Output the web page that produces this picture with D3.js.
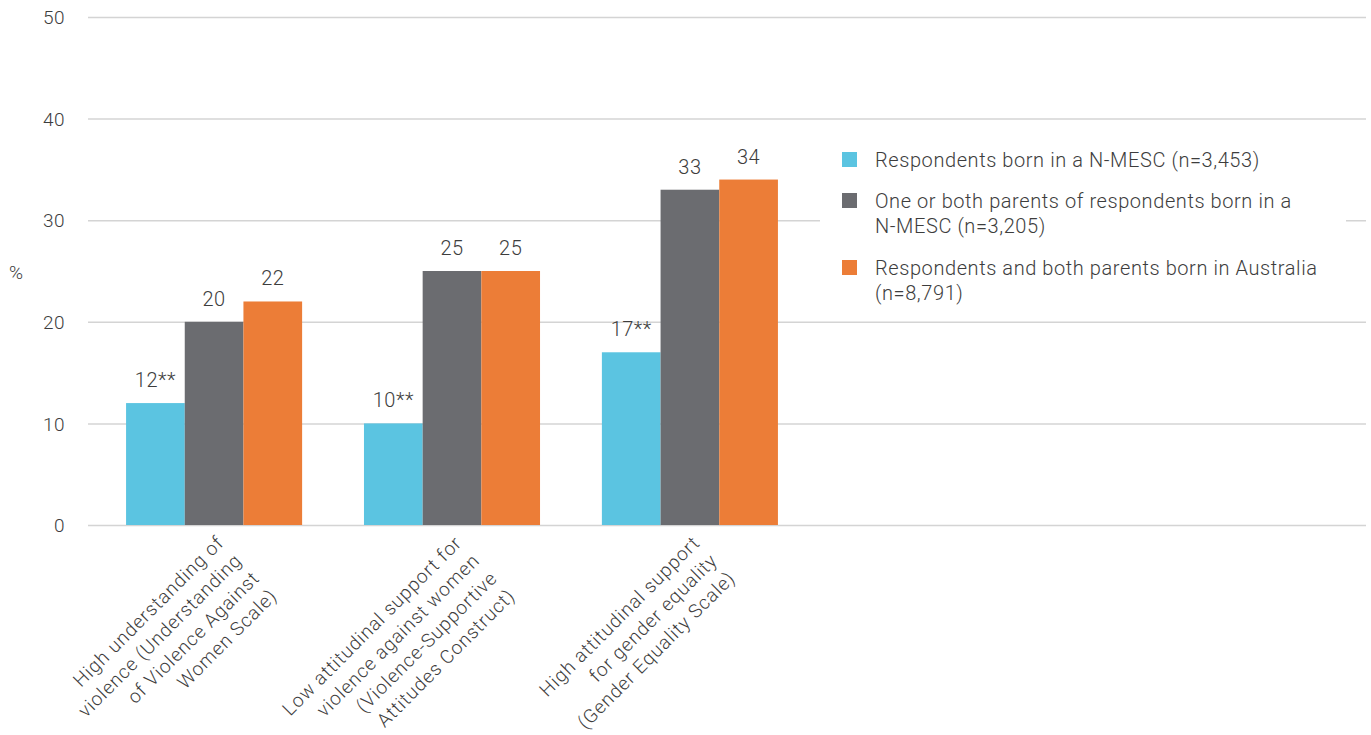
<!DOCTYPE html>
<html>
<head>
<meta charset="utf-8">
<script src="https://cdn.jsdelivr.net/npm/d3@7"></script>
<style>
  html, body { margin: 0; padding: 0; background: #fff; }
  svg { display: block; }
  text { font-family: Roboto, "Open Sans", sans-serif; font-weight: 300; fill: #3d3d3d; }
</style>
</head>
<body>
<svg id="chart" width="1371" height="735"></svg>
<script>
// ---- data ----
const categories = ["uvaws", "vsac", "ges"];
const categoryLabels = [
  ["High understanding of", "violence (Understanding", "of Violence Against", "Women Scale)"],
  ["Low attitudinal support for", "violence against women", "(Violence-Supportive", "Attitudes Construct)"],
  ["High attitudinal support", "for gender equality", "(Gender Equality Scale)"]
];
const seriesKeys = ["nmesc", "parents", "australia"];
const seriesNames = [
  ["Respondents born in a N-MESC (n=3,453)"],
  ["One or both parents of respondents born in a", "N-MESC (n=3,205)"],
  ["Respondents and both parents born in Australia", "(n=8,791)"]
];
const seriesColors = ["#5bc4e1", "#6b6c70", "#ec7d37"];
const nmescValues = [12, 10, 17];
const parentsValues = [20, 25, 33];
const australiaValues = [22, 25, 34];
const valueLabelsNmesc = ["12**", "10**", "17**"];
const valueLabelsParents = ["20", "25", "33"];
const valueLabelsAustralia = ["22", "25", "34"];
const yTicks = [0, 10, 20, 30, 40, 50];
const yAxisTitle = "%";

// ---- build ----
const seriesValues = [nmescValues, parentsValues, australiaValues];
const seriesLabels = [valueLabelsNmesc, valueLabelsParents, valueLabelsAustralia];
const rows = categories.map((c, i) => ({
  cat: c,
  bars: seriesKeys.map((k, j) => ({ key: k, value: seriesValues[j][i], label: seriesLabels[j][i], color: seriesColors[j] }))
}));

const svg = d3.select("#chart");
const plotLeft = 88, plotRight = 1366;

const y = d3.scaleLinear().domain([0, 50]).range([525, 17]);
const x0 = d3.scaleBand().domain(categories).range([88, 816]).paddingInner(0.26).paddingOuter(0.16);
const x1 = d3.scaleBand().domain(seriesKeys).range([0, x0.bandwidth()]).padding(0);

// gridlines
const yAxis = d3.axisLeft(y).tickValues(yTicks).tickSize(-(plotRight - plotLeft)).tickPadding(23).tickFormat(d3.format("d"));
const gAxis = svg.append("g").attr("transform", `translate(${plotLeft},0)`).call(yAxis);
gAxis.select(".domain").remove();
gAxis.selectAll(".tick line").attr("stroke", "#d4d4d4").attr("stroke-width", 1.5);
gAxis.selectAll(".tick text").style("font-size", "19px").style("font-family", "Roboto, sans-serif").style("font-weight", 300)
  .style("letter-spacing", "0.5px").attr("fill", "#3d3d3d").attr("dy", "0.35em");

// y title
svg.append("text").attr("x", 9).attr("y", 279).style("font-size", "19px").text(yAxisTitle);

// bars
const groups = svg.append("g").selectAll("g").data(rows).join("g")
  .attr("transform", d => `translate(${x0(d.cat)},0)`);
groups.selectAll("rect").data(d => d.bars).join("rect")
  .attr("x", d => x1(d.key))
  .attr("y", d => y(d.value))
  .attr("width", x1.bandwidth())
  .attr("height", d => y(0) - y(d.value))
  .attr("fill", d => d.color);
groups.selectAll("text.val").data(d => d.bars).join("text")
  .attr("class", "val")
  .attr("x", d => x1(d.key) + x1.bandwidth() / 2)
  .attr("y", d => y(d.value) - 16)
  .attr("text-anchor", "middle")
  .style("font-size", "20px")
  .style("letter-spacing", "0.5px")
  .text(d => d.label);

// x labels
const xl = svg.append("g").selectAll("text").data(categories).join("text")
  .attr("transform", d => `translate(${x0(d) + x0.bandwidth() / 2 + 11},544) rotate(-45)`)
  .attr("text-anchor", "end")
  .style("font-size", "19px")
  .style("letter-spacing", "0.9px");
xl.each(function(d, i) {
  d3.select(this).selectAll("tspan").data(categoryLabels[i]).join("tspan")
    .attr("x", 0).attr("dy", (t, k) => k === 0 ? 0 : 25).text(t => t);
});

// legend
const legend = svg.append("g");
legend.append("rect").attr("x", 820).attr("y", 132).attr("width", 526).attr("height", 180).attr("fill", "#fff");
const legendBaselines = [167, 208, 275];
const items = legend.selectAll("g").data(seriesKeys).join("g");
items.append("rect")
  .attr("x", 842).attr("y", (d, i) => legendBaselines[i] - 15)
  .attr("width", 15).attr("height", 15)
  .attr("fill", (d, i) => seriesColors[i]);
items.append("text")
  .attr("x", 875).attr("y", (d, i) => legendBaselines[i])
  .style("font-size", "20px")
  .style("letter-spacing", "0.58px")
  .each(function(d, i) {
    d3.select(this).selectAll("tspan").data(seriesNames[i]).join("tspan")
      .attr("x", 875).attr("dy", (t, k) => k === 0 ? 0 : 25).text(t => t);
  });
</script>
</body>
</html>
